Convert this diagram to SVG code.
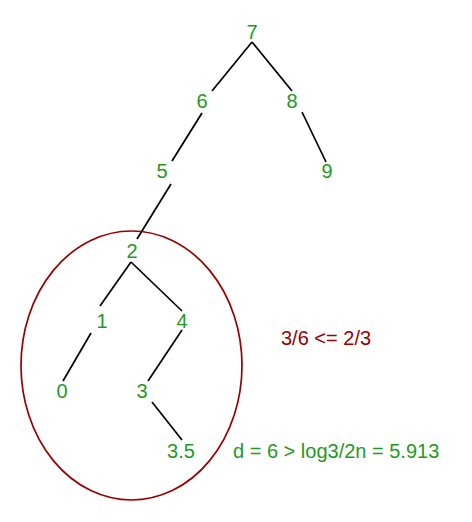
<svg xmlns="http://www.w3.org/2000/svg" width="472" height="522" viewBox="0 0 472 522">
<style>
.n{font-family:"Liberation Sans",Arial,sans-serif;font-size:20px;fill:#1f9a1f;text-anchor:middle}
.e{stroke:#000;stroke-width:1.7;fill:none}
.r{font-family:"Liberation Sans",Arial,sans-serif;font-size:20px;fill:#990000}
.g{font-family:"Liberation Sans",Arial,sans-serif;font-size:20px;fill:#1f9a1f}
</style>
<rect width="472" height="522" fill="#fff"/>
<g id="connectors">
<line class="e" x1="252" y1="42" x2="212" y2="91"/>
<line class="e" x1="252" y1="42" x2="292" y2="91"/>
<line class="e" x1="202" y1="113" x2="172" y2="161"/>
<line class="e" x1="302" y1="112" x2="326" y2="162"/>
<line class="e" x1="171" y1="184" x2="137" y2="239"/>
<line class="e" x1="131" y1="262" x2="100" y2="306"/>
<line class="e" x1="131" y1="262" x2="182" y2="311"/>
<line class="e" x1="91" y1="333" x2="63" y2="381"/>
<line class="e" x1="182" y1="330" x2="148" y2="381"/>
<line class="e" x1="152" y1="402" x2="182" y2="440"/>
</g>
<g id="subtree"><ellipse cx="131.5" cy="365.5" rx="110.5" ry="134.5" fill="none" stroke="#990000" stroke-width="1.7"/></g>
<g id="n7"><text class="n" x="252" y="39">7</text></g>
<g id="n6"><text class="n" x="202" y="108">6</text></g>
<g id="n8"><text class="n" x="292" y="108">8</text></g>
<g id="n5"><text class="n" x="162" y="178">5</text></g>
<g id="n9"><text class="n" x="327" y="178">9</text></g>
<g id="n2"><text class="n" x="132" y="258">2</text></g>
<g id="n1"><text class="n" x="102" y="328">1</text></g>
<g id="n4"><text class="n" x="182" y="328">4</text></g>
<g id="n0"><text class="n" x="62" y="398">0</text></g>
<g id="n3"><text class="n" x="142" y="398">3</text></g>
<g id="n35"><text class="n" x="181" y="458">3.5</text></g>
<g id="ratio"><text class="r" x="281" y="345">3/6 &lt;= 2/3</text></g>
<g id="depth"><text class="g" x="233" y="458">d = 6 &gt; log3/2n = 5.913</text></g>
</svg>
